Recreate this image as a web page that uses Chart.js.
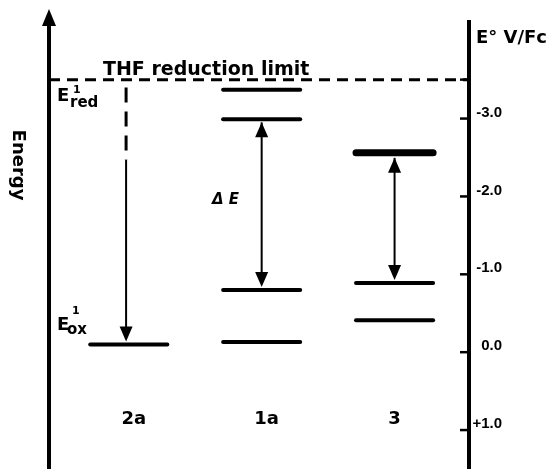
<!DOCTYPE html>
<html>
<head>
<meta charset="utf-8">
<script src="https://cdn.jsdelivr.net/npm/chart.js@4/dist/chart.umd.min.js"></script>
<style>
  html, body { margin: 0; padding: 0; background: #fff; }
</style>
</head>
<body>
<canvas id="levels" width="555" height="469"></canvas>
<script>
// compounds, left to right (x = 1, 2, 3)
const COMPOUNDS = ['2a', '1a', '3'];

// energy levels, E° in V vs Fc
const LEVELS_2A = [-0.10];
const LEVELS_1A = [-3.37, -2.99, -0.80, -0.13];
const LEVELS_3  = [-2.56, -0.89, -0.41];
const THF_LIMIT = -3.50;

// arrows, [from, to] in V
const ARROW_2A = [-3.40, -0.10];   // dashed part down to -2.47
const GAP_1A   = [-2.99, -0.80];
const GAP_3    = [-2.56, -0.89];

// right axis
const TICK_VALUES = [-3, -2, -1, 0, 1];

Chart.defaults.font.family = 'DejaVu Sans';
Chart.defaults.color = '#000';

const HALF = 0.29;  // half width of a level line, x units

function levelSet(x, v, width) {
  return {
    data: [{ x: x - HALF, y: v }, { x: x + HALF, y: v }],
    showLine: true,
    borderColor: '#000',
    borderWidth: width,
    pointRadius: 0,
    borderCapStyle: 'round'
  };
}

const datasets = [];
[LEVELS_2A, LEVELS_1A, LEVELS_3].forEach((levels, i) => {
  levels.forEach((v, j) => {
    // the LUMO of 3 is drawn heavier in the original
    datasets.push(levelSet(i + 1, v, (i === 2 && j === 0) ? 7 : 4));
  });
});

// THF reduction limit, across the whole plot
datasets.push({
  data: [{ x: 0.4, y: THF_LIMIT }, { x: 3.56, y: THF_LIMIT }],
  showLine: true, borderColor: '#000', borderWidth: 3,
  borderDash: [11, 7], pointRadius: 0
});

// dashed start of the 2a arrow
datasets.push({
  data: [{ x: 0.98, y: ARROW_2A[0] }, { x: 0.98, y: -2.47 }],
  showLine: true, borderColor: '#000', borderWidth: 3,
  borderDash: [15, 9], pointRadius: 0
});

function head(ctx, x, tip, dir) {
  // dir = -1 points up, +1 points down
  ctx.beginPath();
  ctx.moveTo(x, tip);
  ctx.lineTo(x - 6.5, tip - dir * 15);
  ctx.lineTo(x + 6.5, tip - dir * 15);
  ctx.closePath();
  ctx.fill();
}

function drawArrow(ctx, x, yTop, yBot, both) {
  ctx.lineWidth = 2;
  ctx.beginPath();
  ctx.moveTo(x, yTop);
  ctx.lineTo(x, yBot - 10);
  ctx.stroke();
  head(ctx, x, yBot, 1);
  if (both) head(ctx, x, yTop, -1);
}

const decor = {
  id: 'decor',
  afterDraw(chart) {
    const { ctx, chartArea } = chart;
    const xs = chart.scales.x, ys = chart.scales.y;
    const X = v => xs.getPixelForValue(v);
    const Y = v => ys.getPixelForValue(v);
    ctx.save();
    ctx.strokeStyle = '#000';
    ctx.fillStyle = '#000';

    // left energy axis with arrow
    ctx.lineWidth = 4;
    ctx.beginPath();
    ctx.moveTo(chartArea.left, chartArea.bottom);
    ctx.lineTo(chartArea.left, 22);
    ctx.stroke();
    ctx.beginPath();
    ctx.moveTo(chartArea.left, 9);
    ctx.lineTo(chartArea.left - 7, 26);
    ctx.lineTo(chartArea.left + 7, 26);
    ctx.closePath();
    ctx.fill();

    // inward ticks on the E° axis
    ctx.lineWidth = 2.5;
    [THF_LIMIT].concat(TICK_VALUES).forEach(v => {
      ctx.beginPath();
      ctx.moveTo(chartArea.right - 9, Y(v));
      ctx.lineTo(chartArea.right, Y(v));
      ctx.stroke();
    });

    // arrows
    drawArrow(ctx, X(0.98), Y(-2.47), Y(ARROW_2A[1]) - 3, false);
    drawArrow(ctx, X(2.0), Y(GAP_1A[0]) + 3, Y(GAP_1A[1]) - 3, true);
    drawArrow(ctx, X(3.0), Y(GAP_3[0]) + 5, Y(GAP_3[1]) - 3, true);

    // texts
    ctx.textBaseline = 'alphabetic';
    ctx.textAlign = 'left';
    ctx.font = 'bold 19px "DejaVu Sans"';
    ctx.fillText('THF reduction limit', 103, Y(THF_LIMIT) - 5);
    ctx.font = 'bold 18px "DejaVu Sans"';
    ctx.fillText('E° V/Fc', 476, 43);

    ctx.font = 'bold 18px "DejaVu Sans"';
    ctx.fillText('E', 57, 101);
    ctx.fillText('E', 57, 330);
    ctx.font = 'bold 11px "DejaVu Sans"';
    ctx.fillText('1', 73, 93);
    ctx.fillText('1', 72, 314);
    ctx.font = 'bold 15px "DejaVu Sans"';
    ctx.fillText('red', 70, 107);
    ctx.fillText('ox', 67, 334);

    ctx.font = 'italic bold 15px "DejaVu Sans"';
    ctx.fillText('Δ E', 212, 204);

    ctx.font = 'bold 18px "DejaVu Sans"';
    ctx.textAlign = 'center';
    COMPOUNDS.forEach((c, i) => {
      ctx.fillText(c, X(i + 1) + (i === 2 ? 0 : 5), 424);
    });

    // "Energy", reading downwards
    ctx.translate(18, 165);
    ctx.rotate(Math.PI / 2);
    ctx.font = 'bold 18px "DejaVu Sans"';
    ctx.textBaseline = 'middle';
    ctx.fillText('Energy', 0, 0);
    ctx.restore();
  }
};

new Chart(document.getElementById('levels'), {
  type: 'scatter',
  data: { datasets },
  options: {
    responsive: false,
    animation: false,
    events: [],
    layout: { padding: { top: 22, left: 49, right: 53, bottom: 0 } },
    plugins: { legend: { display: false }, tooltip: { enabled: false } },
    scales: {
      x: { type: 'linear', min: 0.4, max: 3.56, display: false },
      y: {
        type: 'linear',
        position: 'right',
        reverse: true,
        min: -4.24,
        max: 1.5,
        afterFit: s => { s.width = 33; s.paddingTop = 0; s.paddingBottom = 0; },
        afterBuildTicks: s => { s.ticks = TICK_VALUES.map(v => ({ value: v })); },
        grid: { display: false, drawTicks: false },
        border: { display: true, color: '#000', width: 4 },
        ticks: {
          padding: 6,
          crossAlign: 'far',
          labelOffset: -6,
          font: { family: 'Liberation Sans', weight: 'bold', size: 15 },
          callback: v => v === 0 ? '0.0' : (v > 0 ? '+' : '') + v.toFixed(1)
        }
      }
    }
  },
  plugins: [decor]
});
</script>
</body>
</html>
